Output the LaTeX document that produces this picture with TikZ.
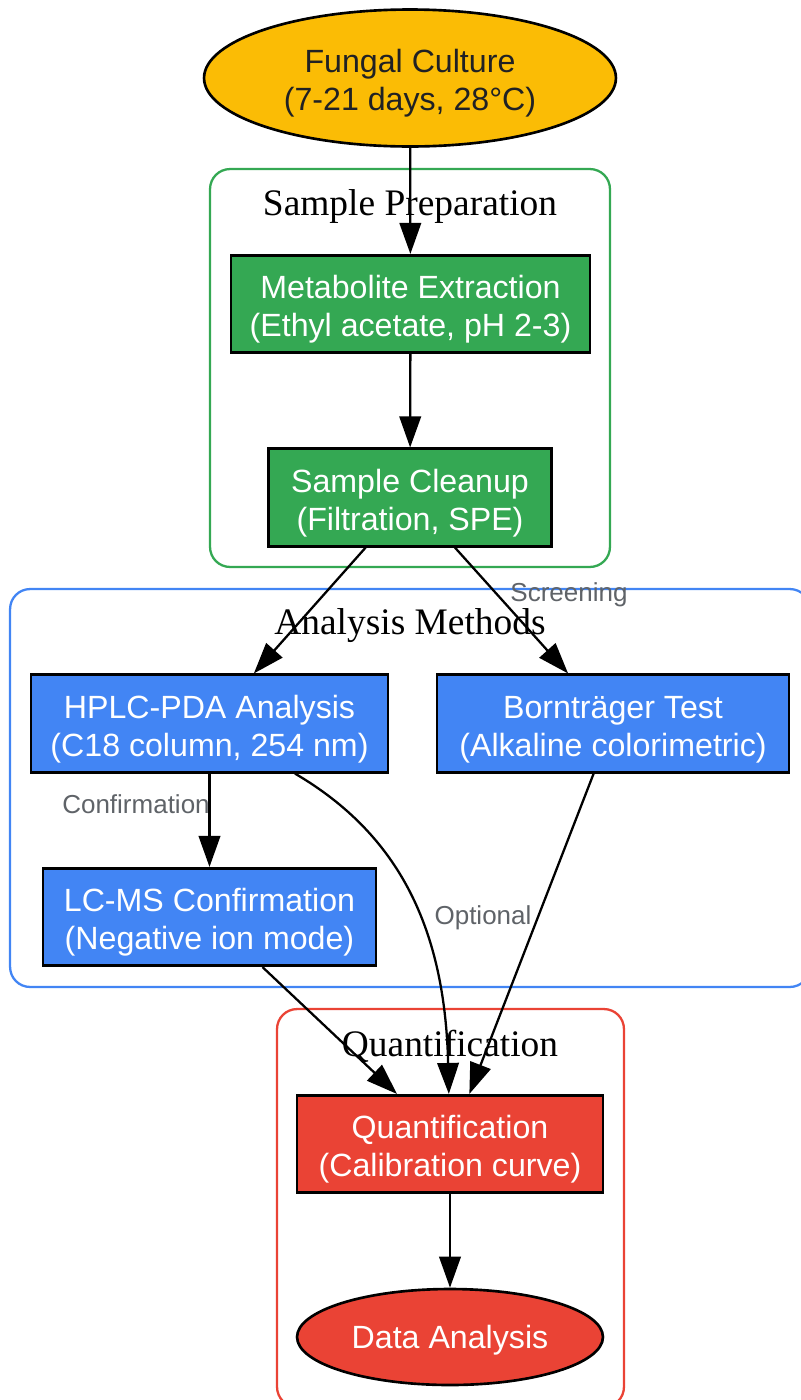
\documentclass[tikz,border=0pt]{standalone}
\usepackage{fontspec}
\setmainfont{Liberation Serif}
\newfontfamily\boxfont{Liberation Sans}
\usetikzlibrary{shapes.geometric,arrows.meta}
\definecolor{cultureyellow}{HTML}{FBBC05}
\definecolor{prepgreen}{HTML}{34A853}
\definecolor{methodblue}{HTML}{4285F4}
\definecolor{quantred}{HTML}{EA4335}
\definecolor{labelgray}{HTML}{5F6368}
\definecolor{darktext}{HTML}{202124}
\newcommand{\headroom}{\rule{0pt}{19.5pt}}

\begin{document}
\begin{tikzpicture}[x=0.02cm,y=-0.02cm]

	\tikzstyle{cluster}=[draw,rectangle,rounded corners=0.4cm,line width=1.3pt,inner sep=0pt,minimum height=7.96cm]
	\tikzstyle{clusterlabel}=[inner sep=0pt,font=\fontsize{21.3}{25}\selectfont]
	\tikzstyle{stagetext}=[inner sep=0pt,align=center,font=\boxfont\fontsize{18.3}{21.8}\selectfont]
	\tikzstyle{stagebox}=[stagetext,draw,rectangle,line width=1.5pt,text=white,minimum height=1.95cm]
	\tikzstyle{endpoint}=[stagetext,draw,ellipse,line width=1.5pt]
	\tikzstyle{edgelabel}=[inner sep=0pt,text=labelgray,font=\boxfont\fontsize{14.8}{17}\selectfont]
	\tikzstyle{flow}=[-{Triangle[length=0.62cm,width=0.43cm]},line width=1.3pt]

	\useasboundingbox (0,0) rectangle (801,1400);

	% clusters
	\node[cluster,draw=prepgreen,minimum width=8cm] (prepframe) at (410,368) {};
	\node[cluster,draw=methodblue,minimum width=16cm] (methodframe) at (410,788) {};
	\node[cluster,draw=quantred,minimum width=6.94cm] (quantframe) at (450.5,1208) {};

	\node[clusterlabel] (preplabel) at (410,206) {Sample Preparation};
	\node[clusterlabel] (methodlabel) at (410,626) {Analysis Methods};
	\node[clusterlabel] (quantlabel) at (450,1046) {Quantification};

	% stages
	\node[endpoint,fill=cultureyellow,text=darktext,minimum width=8.24cm,minimum height=2.74cm] (culture) at (410,78) {\headroom Fungal Culture\\(7-21 days, 28°C)};

	\node[stagebox,fill=prepgreen,minimum width=7.18cm] (extraction) at (410.5,304) {\headroom Metabolite Extraction\\(Ethyl acetate, pH 2-3)};
	\node[stagebox,fill=prepgreen,minimum width=5.66cm] (cleanup) at (410,497.5) {\headroom Sample Cleanup\\(Filtration, SPE)};

	\node[stagebox,fill=methodblue,minimum width=7.14cm] (hplc) at (209.5,723.5) {\headroom HPLC-PDA Analysis\\(C18 column, 254 nm)};
	\node[stagebox,fill=methodblue,minimum width=7.04cm] (borntrager) at (613,723.5) {\headroom Bornträger Test\\(Alkaline colorimetric)};
	\node[stagebox,fill=methodblue,minimum width=6.66cm] (lcms) at (209.5,917) {\headroom LC-MS Confirmation\\(Negative ion mode)};

	\node[stagebox,fill=quantred,minimum width=6.12cm] (quant) at (450,1144) {\headroom Quantification\\(Calibration curve)};
	\node[endpoint,fill=quantred,text=white,minimum width=6.12cm,minimum height=1.92cm] (dataanalysis) at (450,1337) {\rule{0pt}{16.6pt}Data Analysis};

	% connections
	\draw[flow] (culture) -- (extraction);
	\draw[flow] (extraction) -- (cleanup);
	\draw[flow] (cleanup) -- (hplc);
	\draw[flow] (cleanup) -- (borntrager);
	\draw[flow] (hplc) -- (lcms);
	\draw[flow] (hplc) .. controls (400,835) and (445,930) .. (quant);
	\draw[flow] (borntrager) -- (quant);
	\draw[flow] (lcms) -- (quant);
	\draw[flow] (quant) -- (dataanalysis);

	\node[edgelabel] (screening) at (569,595) {Screening};
	\node[edgelabel] (confirmation) at (136,804) {Confirmation};
	\node[edgelabel] (optional) at (483,918) {Optional};

\end{tikzpicture}
\end{document}
